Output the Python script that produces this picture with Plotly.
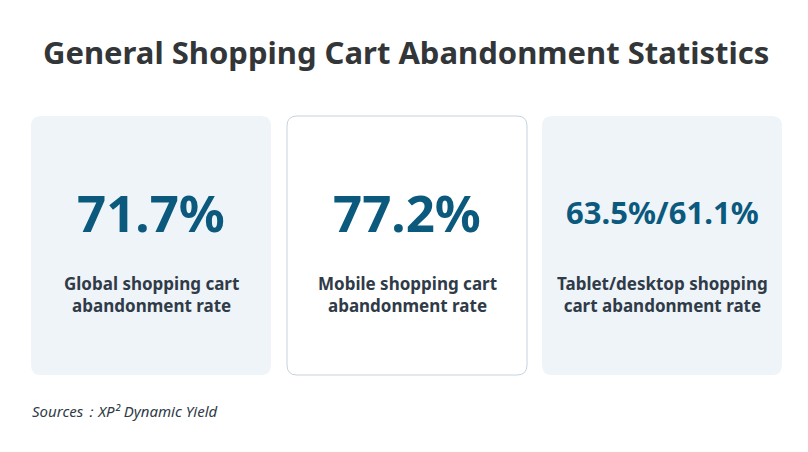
import plotly.graph_objects as go

# Data
stat_values = ["71.7%", "77.2%", "63.5%/61.1%"]
stat_labels = [
    "Global shopping cart<br>abandonment rate",
    "Mobile shopping cart<br>abandonment rate",
    "Tablet/desktop shopping<br>cart abandonment rate",
]
highlighted = [False, True, False]
title_text = "General Shopping Cart Abandonment Statistics"
source_text = "Sources：XP² Dynamic Yield"

W, H = 808, 452
OFF = 8  # page body margin
FONT = "Noto Sans"


def rounded_rect(x0, y0, x1, y1, r):
    return (
        f"M{x0 + r},{y0} L{x1 - r},{y0} Q{x1},{y0} {x1},{y0 + r} "
        f"L{x1},{y1 - r} Q{x1},{y1} {x1 - r},{y1} L{x0 + r},{y1} "
        f"Q{x0},{y1} {x0},{y1 - r} L{x0},{y0 + r} Q{x0},{y0} {x0 + r},{y0} Z"
    )


fig = go.Figure()

card_w, card_top, card_bot = 240, 116, 375
card_x0 = [31, 287, 542]

for i, (val, lab) in enumerate(zip(stat_values, stat_labels)):
    x0 = card_x0[i]
    cx = x0 + card_w / 2
    if highlighted[i]:
        fill, line = "#ffffff", dict(color="#c5d3de", width=1)
    else:
        fill, line = "#eff4f9", dict(width=0)
    fig.add_shape(
        type="path",
        path=rounded_rect(x0, card_top, x0 + card_w, card_bot, 10),
        fillcolor=fill,
        line=line,
        layer="below",
    )
    size = 51 if len(val) < 8 else 31
    fig.add_annotation(
        x=cx, y=212, text=f"<b>{val}</b>", showarrow=False,
        font=dict(family=FONT, size=size, color="#0b5a7e"),
        xanchor="center", yanchor="middle",
    )
    fig.add_annotation(
        x=cx, y=294, text=f"<b>{lab}</b>", showarrow=False,
        font=dict(family=FONT, size=17, color="#2f3b48"),
        xanchor="center", yanchor="middle",
    )

fig.add_annotation(
    x=406, y=52, text=f"<b>{title_text}</b>", showarrow=False,
    font=dict(family=FONT, size=31, color="#333638"),
    xanchor="center", yanchor="middle",
)
fig.add_annotation(
    x=30, y=411, text=f"<i>{source_text}</i>", showarrow=False,
    font=dict(family=FONT, size=15, color="#2f3b48"),
    xanchor="left", yanchor="middle",
)

fig.update_xaxes(range=[OFF, W + OFF], visible=False, fixedrange=True)
fig.update_yaxes(range=[H + OFF, OFF], visible=False, fixedrange=True)
fig.update_layout(
    width=W, height=H,
    margin=dict(l=0, r=0, t=0, b=0),
    paper_bgcolor="white", plot_bgcolor="white",
    showlegend=False,
)

fig.write_html("out.html", config={"displayModeBar": False})
